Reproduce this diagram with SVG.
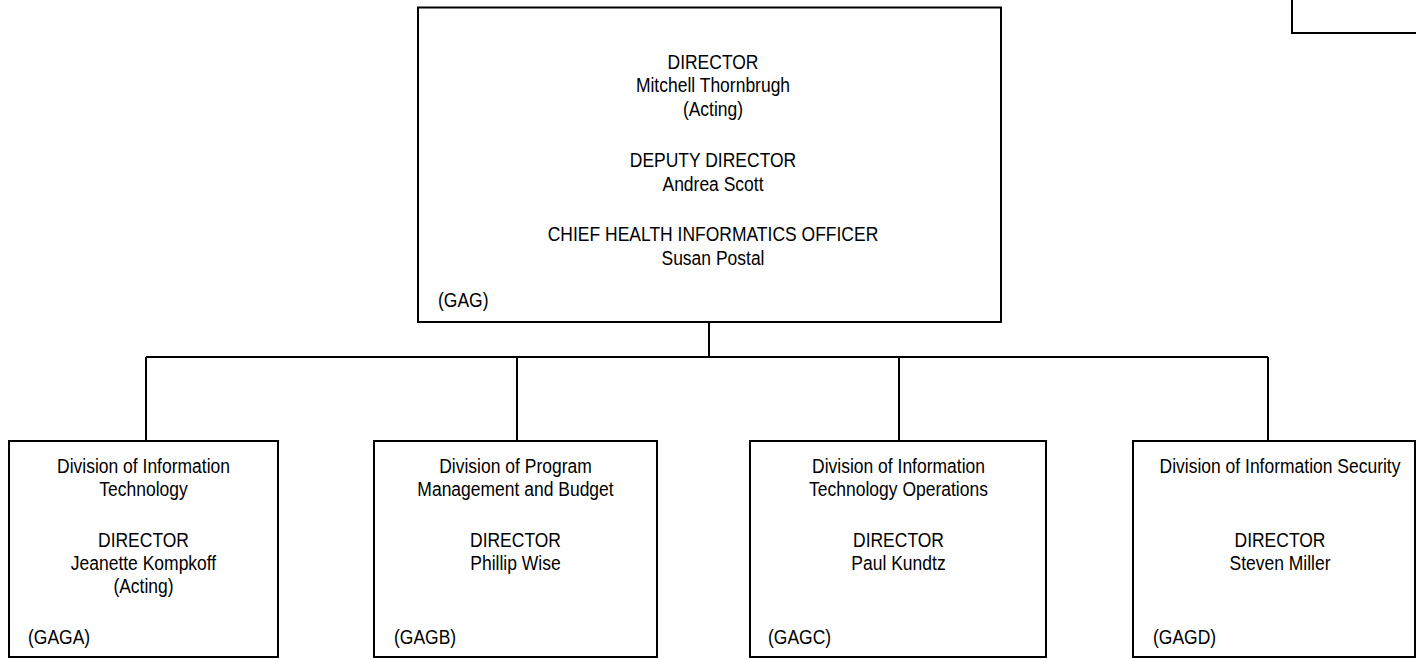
<svg xmlns="http://www.w3.org/2000/svg" width="1416" height="659" viewBox="0 0 1416 659">
<style>
.box{fill:#fff;stroke:#000;stroke-width:2}
.ln{fill:none;stroke:#000;stroke-width:2}
text{font-family:"Liberation Sans",Arial,sans-serif;font-size:21px;fill:#000}
.c{text-anchor:middle}
</style>
<rect width="1416" height="659" fill="#fff"/>
<g id="connectors">
<path class="ln" d="M709 322V357M146 357H1268M146 357V441M517 357V441M899 357V441M1268 357V441"/>
</g>
<g id="corner">
<path class="ln" d="M1292 -2V33H1418"/>
</g>
<g id="gag">
<rect class="box" x="418" y="7.5" width="583" height="314.5"/>
<g transform="translate(713 0) scale(0.833 1)">
<text class="c" x="0" y="69">DIRECTOR</text>
<text class="c" x="0" y="92.5">Mitchell Thornbrugh</text>
<text class="c" x="0" y="116">(Acting)</text>
<text class="c" x="0" y="167.5">DEPUTY DIRECTOR</text>
<text class="c" x="0" y="191">Andrea Scott</text>
<text class="c" x="0" y="241.5">CHIEF HEALTH INFORMATICS OFFICER</text>
<text class="c" x="0" y="265">Susan Postal</text>
</g>
<g transform="translate(438 0) scale(0.833 1)"><text x="0" y="307">(GAG)</text></g>
</g>
<g id="gaga">
<rect class="box" x="9" y="441" width="269" height="216"/>
<g transform="translate(143.5 0) scale(0.833 1)">
<text class="c" x="0" y="473">Division of Information</text>
<text class="c" x="0" y="496">Technology</text>
<text class="c" x="0" y="547.5">DIRECTOR</text>
<text class="c" x="0" y="570.5">Jeanette Kompkoff</text>
<text class="c" x="0" y="593.5">(Acting)</text>
</g>
<g transform="translate(28 0) scale(0.833 1)"><text x="0" y="644">(GAGA)</text></g>
</g>
<g id="gagb">
<rect class="box" x="374" y="441" width="283" height="216"/>
<g transform="translate(515.5 0) scale(0.833 1)">
<text class="c" x="0" y="473">Division of Program</text>
<text class="c" x="0" y="496">Management and Budget</text>
<text class="c" x="0" y="547.5">DIRECTOR</text>
<text class="c" x="0" y="570.5">Phillip Wise</text>
</g>
<g transform="translate(394 0) scale(0.833 1)"><text x="0" y="644">(GAGB)</text></g>
</g>
<g id="gagc">
<rect class="box" x="750" y="441" width="296" height="216"/>
<g transform="translate(898.5 0) scale(0.833 1)">
<text class="c" x="0" y="473">Division of Information</text>
<text class="c" x="0" y="496">Technology Operations</text>
<text class="c" x="0" y="547.5">DIRECTOR</text>
<text class="c" x="0" y="570.5">Paul Kundtz</text>
</g>
<g transform="translate(768 0) scale(0.833 1)"><text x="0" y="644">(GAGC)</text></g>
</g>
<g id="gagd">
<rect class="box" x="1133" y="441" width="282" height="216"/>
<g transform="translate(1280 0) scale(0.833 1)">
<text class="c" x="0" y="473">Division of Information Security</text>
<text class="c" x="0" y="547.5">DIRECTOR</text>
<text class="c" x="0" y="570.5">Steven Miller</text>
</g>
<g transform="translate(1153 0) scale(0.833 1)"><text x="0" y="644">(GAGD)</text></g>
</g>
</svg>
